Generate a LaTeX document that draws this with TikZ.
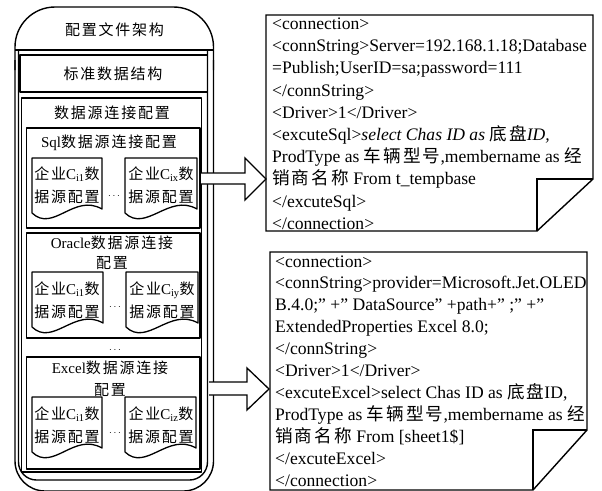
\documentclass[tikz,border=0pt]{standalone}
\usepackage{fontspec}
\setmainfont{Liberation Serif}
\newfontfamily\zhfont[LetterSpace=12]{Noto Sans CJK SC}
\newcommand\zh[1]{{\zhfont #1}}
\newcommand\leafdoc[3]{\draw[docline] (#1,#2+55) -- (#1,#2) -- (#3,#2) -- (#3,#2+51) .. controls +(-28,-16) and +(21,20) .. (#1,#2+55);}
\tikzset{
  outerline/.style={line width=1.4pt},
  box/.style={draw, line width=1.3pt},
  docline/.style={line width=1.3pt},
  zhlbl/.style={inner sep=0pt, align=center, font=\fontsize{15}{20}\selectfont},
  doclbl/.style={inner sep=0pt, align=center, font=\fontsize{15}{23}\selectfont},
  code/.style={anchor=base west, inner sep=0pt, font=\fontsize{17.6}{21}\selectfont},
  blockarrow/.style={draw, fill=white, line width=1.3pt, line join=miter},
  paper/.style={draw, fill=white, line width=1.4pt, line join=miter}
}
\begin{document}
\begin{tikzpicture}[x=1pt, y=-1pt, line join=round]
\useasboundingbox (0,0) rectangle (602,490);
\clip (0,0) rectangle (602,490);
\fill[white] (0,0) rectangle (602,490);

% container
\draw[outerline, rounded corners=40] (15,70) -- (15,7) -- (213.5,7) -- (213.5,70);
\draw[outerline, rounded corners=30] (15,60) -- (15,491) -- (213.5,491) -- (213.5,60);
\draw[outerline] (15,50) -- (213.5,50);
\draw[outerline, rounded corners=18] (18.5,50) -- (18.5,480) -- (207.5,480) -- (207.5,50);
\node[zhlbl] (title) at (114.5,30) {\zh{配置文件架构}};

% standard data structure
\draw[box] (20,55) rectangle (207.5,92);
\node[zhlbl] (std) at (113,74) {\zh{标准数据结构}};

% data source config
\draw[box] (21.7,98) rectangle (201.5,472);
\node[zhlbl] (ds) at (112,113) {\zh{数据源连接配置}};

% Sql
\draw[box] (26.7,128) rectangle (200,228);
\node[zhlbl] (sql) at (109,143) {Sql\zh{数据源连接配置}};
\leafdoc{32}{158}{102}
\leafdoc{125}{158}{197}
\node[doclbl] (sqlA) at (67,185) {\zh{企业}C\textsubscript{i1}\zh{数}\\\zh{据源配置}};
\node[doclbl] (sqlB) at (161,185) {\zh{企业}C\textsubscript{ix}\zh{数}\\\zh{据源配置}};
\node[inner sep=0pt] (sqldots) at (114,196) {$\cdots$};

% Oracle
\draw[box] (26.7,233) rectangle (200,338);
\node[zhlbl] (ora) at (112,253) {Oracle\zh{数据源连接}\\\zh{配置}};
\leafdoc{32}{272}{103}
\leafdoc{126}{272}{198}
\node[doclbl] (oraA) at (67,300) {\zh{企业}C\textsubscript{i1}\zh{数}\\\zh{据源配置}};
\node[doclbl] (oraB) at (162,300) {\zh{企业}C\textsubscript{iy}\zh{数}\\\zh{据源配置}};
\node[inner sep=0pt] (oradots) at (115,307) {$\cdots$};

\node[inner sep=0pt] (middots) at (115,350) {$\cdots$};

% Excel
\draw[box] (26.7,357) rectangle (200,469);
\node[zhlbl, font=\fontsize{15}{22}\selectfont] (xls) at (110,379) {Excel\zh{数据源连接}\\\zh{配置}};
\leafdoc{32}{397}{102}
\leafdoc{125}{397}{196}
\node[doclbl] (xlsA) at (67,425) {\zh{企业}C\textsubscript{i1}\zh{数}\\\zh{据源配置}};
\node[doclbl] (xlsB) at (161,425) {\zh{企业}C\textsubscript{iz}\zh{数}\\\zh{据源配置}};
\node[inner sep=0pt] (xlsdots) at (115,433) {$\cdots$};

% right documents
\draw[paper] (266,15) -- (593,15) -- (593,179) -- (537,231) -- (266,231) -- cycle;
\draw[line width=1.4pt, line join=miter] (593,179) -- (537,179) -- (537,231);
\draw[paper] (270,252) -- (587,252) -- (587,430) -- (533,490) -- (270,490) -- cycle;
\draw[line width=1.4pt, line join=miter] (587,430) -- (533,430) -- (533,490);

\foreach \cl [count=\ci] in {
  {<connection>},
  {<connString>Server=192.168.1.18;Database},
  {=Publish;UserID=sa;password=111},
  {</connString>},
  {<Driver>1</Driver>},
  {<excuteSql>\textit{select Chas ID as }\zh{底盘}\textit{ID,}},
  {ProdType as \zh{车辆型号},membername as \zh{经}},
  {\zh{销商名称} From t\_tempbase},
  {</excuteSql>},
  {</connection>}}
  \node[code] (c1-\ci) at (272,{29.5+22.2*(\ci-1)}) {\cl};

\foreach \cl [count=\ci] in {
  {<connection>},
  {<connString>provider=Microsoft.Jet.OLED},
  {B.4.0;” +” DataSource” +path+” ;” +”},
  {ExtendedProperties Excel 8.0;},
  {</connString>},
  {<Driver>1</Driver>},
  {<excuteExcel>select Chas ID as \zh{底盘}ID,},
  {ProdType as \zh{车辆型号},membername as \zh{经}},
  {\zh{销商名称} From [sheet1\$]},
  {</excuteExcel>},
  {</connection>}}
  \node[code] (c2-\ci) at (275,{267+21.9*(\ci-1)}) {\cl};

% block arrows
\draw[blockarrow] (201,173) -- (245,173) -- (245,158) -- (266,179) -- (245,200) -- (245,184) -- (201,184);
\draw[blockarrow] (209,382) -- (247,382) -- (247,368) -- (269,389) -- (247,410) -- (247,395) -- (209,395);
\end{tikzpicture}
\end{document}
